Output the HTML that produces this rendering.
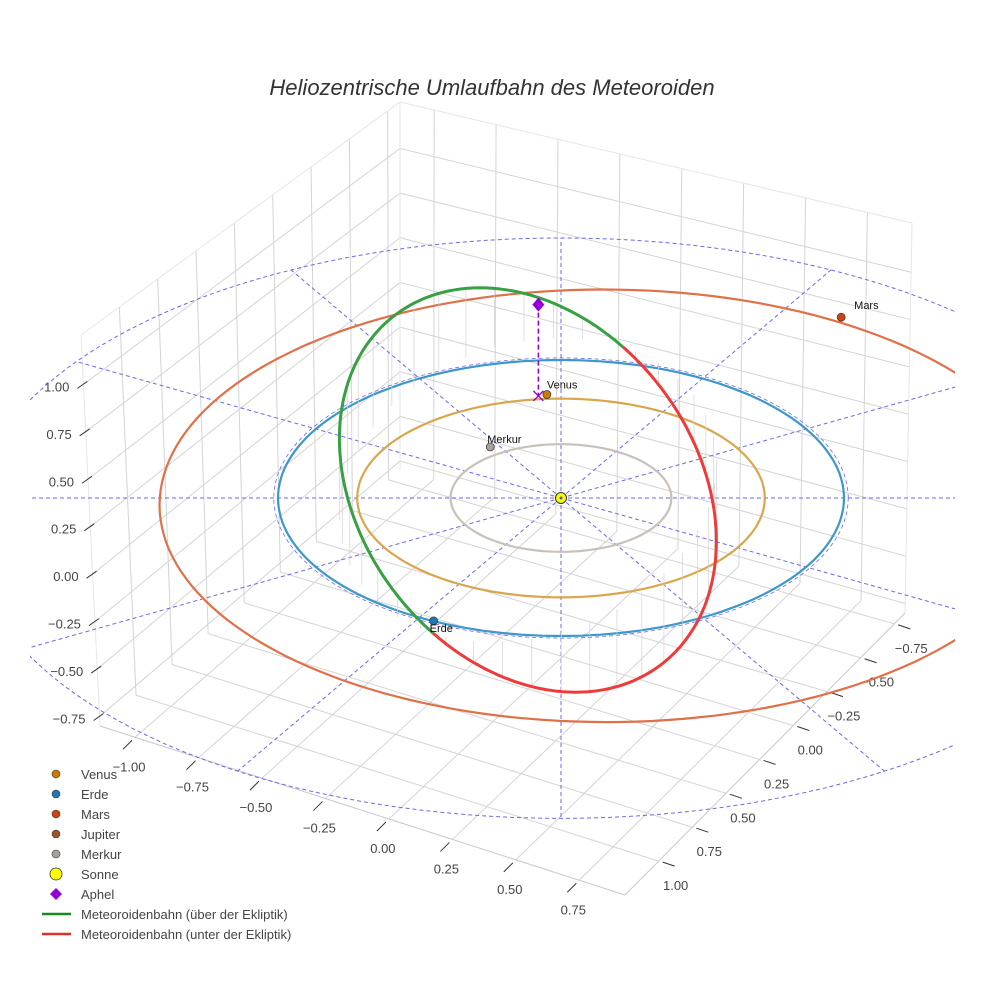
<!DOCTYPE html>
<html><head><meta charset="utf-8">
<style>
html,body{margin:0;padding:0;background:#fff;}
svg{display:block;font-family:"Liberation Sans",sans-serif;}
</style></head>
<body>
<svg id="chart" width="984" height="984" viewBox="0 0 984 984" xmlns="http://www.w3.org/2000/svg">
<defs><clipPath id="clip"><rect x="30" y="100" width="925" height="880"/></clipPath></defs>
<text x="492" y="95" text-anchor="middle" font-size="22" font-style="italic" fill="#333">Heliozentrische Umlaufbahn des Meteoroiden</text>
<g id="box"></g>
<g id="data" clip-path="url(#clip)"></g>
<g id="labels"></g>
<g id="legend"></g>
</svg>
<script>
// ---- data ----
const xTicks = [-1.00,-0.75,-0.50,-0.25,0.00,0.25,0.50,0.75];
const yTicks = [-0.75,-0.50,-0.25,0.00,0.25,0.50,0.75,1.00];
const zTicks = [-0.75,-0.50,-0.25,0.00,0.25,0.50,0.75,1.00];
const xRange = [-1.138, 0.93];
const yRange = [-0.83, 1.25];
const zRange = [-0.8, 1.26];
const planetNames = ["Merkur","Venus","Erde","Mars"];
const planetX = [-0.25,-0.05,-0.45,0.99];
const planetY = [0.37,0.75,-0.89,1.31];
const orbitRadius = [0.39,0.72,1.0,1.575];
const orbitEcc = [0,0,0,0.105];
const orbitPeriAngle = [0,0,0,160];
const meteorCenter = [-0.117,0.058,0];
const meteorU = [-0.336,-1.036,0];
const meteorW = [-0.575,0.375,0.48];
const aphel = [-0.08,0.74,0.48];
const gridRadius = 2.08;
const spokeAngles = [0,30,60,90,120,150,180,210,240,270,300,330];

const NS="http://www.w3.org/2000/svg";
function mk(tag,attrs,parent){const e=document.createElementNS(NS,tag);for(const k in attrs)e.setAttribute(k,attrs[k]);parent.appendChild(e);return e;}
function proj(x,y,z){return [561+283*x, 498-138*y-190*z];}
function gproj(x,y){const f=1/(1+0.05*y);return [561+283*x*f, 498-138*y*f];}
const C={L:[100,726],F:[625,895],R:[905,613],B:[400,470],Lt:[81,335],Ft:[630,505],Rt:[912,223],Bt:[400,102]};
function boxP(x,y,z){
  const u=(x-xRange[0])/(xRange[1]-xRange[0]);
  const v=(yRange[1]-y)/(yRange[1]-yRange[0]);
  const w=(z-zRange[0])/(zRange[1]-zRange[0]);
  function bl(a,b,c,d){return [0,1].map(i=>(1-u)*(1-v)*a[i]+u*(1-v)*b[i]+u*v*c[i]+(1-u)*v*d[i]);}
  const lo=bl(C.L,C.F,C.R,C.B), hi=bl(C.Lt,C.Ft,C.Rt,C.Bt);
  return [lo[0]+(hi[0]-lo[0])*w, lo[1]+(hi[1]-lo[1])*w];
}
const box=document.getElementById('box');
function bline(a,b,col,name){const l=mk('line',{x1:a[0],y1:a[1],x2:b[0],y2:b[1],stroke:col,'stroke-width':1},box);

}
const gc="#d4d4d4";
yTicks.forEach(t=>bline(boxP(xRange[0],t,zRange[0]),boxP(xRange[0],t,zRange[1]),gc,'gridline-y'));
zTicks.forEach(t=>bline(boxP(xRange[0],yRange[1],t),boxP(xRange[0],yRange[0],t),gc,'gridline-z'));
xTicks.forEach(t=>bline(boxP(t,yRange[0],zRange[0]),boxP(t,yRange[0],zRange[1]),gc,'gridline-x'));
zTicks.forEach(t=>bline(boxP(xRange[0],yRange[0],t),boxP(xRange[1],yRange[0],t),gc,'gridline-z'));
xTicks.forEach(t=>bline(boxP(t,yRange[1],zRange[0]),boxP(t,yRange[0],zRange[0]),gc,'gridline-x'));
yTicks.forEach(t=>bline(boxP(xRange[0],t,zRange[0]),boxP(xRange[1],t,zRange[0]),gc,'gridline-y'));
const ec="#e6e6e6";
bline(C.L,C.Lt,ec,'box-edge');bline(C.B,C.Bt,ec,'box-edge');bline(C.R,C.Rt,ec,'box-edge');
bline(C.Lt,C.Bt,ec,'box-edge');bline(C.Bt,C.Rt,ec,'box-edge');
bline(C.L,C.F,"#c8c8c8",'x-axis-line');bline(C.F,C.R,"#c8c8c8",'y-axis-line');
function tlabel(p,txt,anchor,name){const t=mk('text',{x:p[0],y:p[1],'font-size':13,fill:'#444','text-anchor':anchor},box);t.textContent=txt;

}
function fmt(v){return (v<0?'\u2212':'')+Math.abs(v).toFixed(2);}
xTicks.forEach(t=>{const p=boxP(t,yRange[1],zRange[0]);
  bline([p[0]-3,p[1]+3],[p[0]-12,p[1]+12],'#333','x-tick');
  tlabel([p[0]-6,p[1]+34],fmt(t),'middle','x-tick-label');});
yTicks.forEach(t=>{const p=boxP(xRange[1],t,zRange[0]);
  bline([p[0]+4,p[1]+1],[p[0]+16,p[1]+5],'#333','y-tick');
  tlabel([p[0]+17,p[1]+29],fmt(t),'middle','y-tick-label');});
zTicks.forEach(t=>{const p=boxP(xRange[0],yRange[1],t);
  bline([p[0]-6,p[1]+4],[p[0]+4,p[1]-3],'#333','z-tick');
  tlabel([p[0]-14,p[1]+7],fmt(t),'end','z-tick-label');});

const g=document.getElementById('data');
function path(pts){return pts.map((p,i)=>(i?'L':'M')+p[0].toFixed(1)+' '+p[1].toFixed(1)).join(' ');}
const gridPts=[];for(let i=0;i<=360;i+=2){const a=i*Math.PI/180;gridPts.push(gproj(gridRadius*Math.cos(a),gridRadius*Math.sin(a)));}
let e=mk('path',{d:path(gridPts),fill:'none',stroke:'#6a6ae8','stroke-width':1,'stroke-dasharray':'4,3'},g);


const oneAU=[];for(let i=0;i<=360;i+=2){const a=i*Math.PI/180;oneAU.push(proj(1.015*Math.cos(a),1.015*Math.sin(a),0));}
e=mk('path',{d:path(oneAU),fill:'none',stroke:'#6a6ae8','stroke-width':0.8,'stroke-dasharray':'4,3'},g);


spokeAngles.forEach(d=>{const a=d*Math.PI/180;const p0=proj(0,0,0);
  const k=(d===0||d===180)?1.7:1;
  const p2=gproj(gridRadius*Math.cos(a)*k,gridRadius*Math.sin(a));
  const s=mk('line',{x1:p0[0],y1:p0[1],x2:p2[0],y2:p2[1],stroke:'#6a6ae8','stroke-width':1,'stroke-dasharray':'4,3'},g);
  
  });
const orbitColors=['#c9c1b9','#d9a64e','#3d97cc','#e07048'];
planetNames.forEach((n,k)=>{const a=orbitRadius[k],ec2=orbitEcc[k],w=orbitPeriAngle[k]*Math.PI/180;const b=a*Math.sqrt(1-ec2*ec2);
  const cx=-a*ec2*Math.cos(w),cy=-a*ec2*Math.sin(w);const pts=[];
  for(let i=0;i<=360;i+=2){const t=i*Math.PI/180;const X=a*Math.cos(t),Y=b*Math.sin(t);
    pts.push(proj(cx+X*Math.cos(w)-Y*Math.sin(w),cy+X*Math.sin(w)+Y*Math.cos(w),0));}
  const o=mk('path',{d:path(pts),fill:'none',stroke:orbitColors[k],'stroke-width':2.2},g);
  
  });
function mpt(t){const c=Math.cos(t),s=Math.sin(t);return [0,1,2].map(i=>meteorCenter[i]+meteorU[i]*c+meteorW[i]*s);}
for(let i=0;i<40;i++){const t=(i+0.5)*2*Math.PI/40;const p=mpt(t);const a=proj(p[0],p[1],p[2]),b=proj(p[0],p[1],0);
  const l=mk('line',{x1:a[0],y1:a[1],x2:b[0],y2:b[1],stroke:'#d2d2d2','stroke-width':0.7},g);
  
  }
const up=[],down=[];for(let i=0;i<=360;i++){const t=i*Math.PI/180;const p=mpt(t);const q=proj(p[0],p[1],p[2]);if(i<=180)up.push(q);if(i>=180)down.push(q);}
e=mk('path',{d:path(up),fill:'none',stroke:'#36a043','stroke-width':3},g);


e=mk('path',{d:path(down),fill:'none',stroke:'#ef3a3a','stroke-width':3},g);


const ap=proj(aphel[0],aphel[1],aphel[2]),ap0=proj(aphel[0],aphel[1],0);
e=mk('line',{x1:ap[0],y1:ap[1],x2:ap0[0],y2:ap0[1],stroke:'#9400d3','stroke-width':1.5,'stroke-dasharray':'5,3'},g);


e=mk('path',{d:`M${ap0[0]-5} ${ap0[1]-5}L${ap0[0]+5} ${ap0[1]+5}M${ap0[0]+5} ${ap0[1]-5}L${ap0[0]-5} ${ap0[1]+5}`,stroke:'#9400d3','stroke-width':1.3},g);


e=mk('path',{d:`M${ap[0]} ${ap[1]-7}L${ap[0]+6} ${ap[1]}L${ap[0]} ${ap[1]+7}L${ap[0]-6} ${ap[1]}Z`,fill:'#9400d3'},g);


const planetColors=['#a8a09a','#cc7a00','#1f77b4','#cc4411'];
const lab=document.getElementById('labels');
const labelOff=[[-3,-4],[0,-6],[-4,11],[13,-8]];
planetNames.forEach((n,k)=>{const p=proj(planetX[k],planetY[k],0);
  const c=mk('circle',{cx:p[0],cy:p[1],r:4,fill:planetColors[k],stroke:'#333','stroke-width':0.7},g);
  
  
  const t=mk('text',{x:p[0]+labelOff[k][0],y:p[1]+labelOff[k][1],'font-size':11,fill:'#111'},lab);t.textContent=n;
  
  });
const sp=proj(0,0,0);
e=mk('circle',{cx:sp[0],cy:sp[1],r:5.5,fill:'#ffff00',stroke:'#333','stroke-width':1},g);


e=mk('circle',{cx:sp[0],cy:sp[1],r:1.5,fill:'#4060d0'},g);



const legendNames=["Venus","Erde","Mars","Jupiter","Merkur","Sonne","Aphel","Meteoroidenbahn (über der Ekliptik)","Meteoroidenbahn (unter der Ekliptik)"];
const legendColors=['#cc7a00','#1f77b4','#cc4411','#a0522d','#a8a09a','#ffff00','#9400d3','#1a8a1a','#e03030'];
const leg=document.getElementById('legend');
legendNames.forEach((n,i)=>{const y=774+i*20;const gi=mk('g',{},leg);
  
  
  if(i<5) mk('circle',{cx:56,cy:y,r:4,fill:legendColors[i],stroke:'#333','stroke-width':0.6},gi);
  else if(i===5) mk('circle',{cx:56,cy:y,r:6,fill:legendColors[i],stroke:'#333','stroke-width':0.8},gi);
  else if(i===6) mk('path',{d:`M56 ${y-6}L62 ${y}L56 ${y+6}L50 ${y}Z`,fill:legendColors[i]},gi);
  else mk('line',{x1:42,y1:y,x2:71,y2:y,stroke:legendColors[i],'stroke-width':2.5},gi);
  const t=mk('text',{x:81,y:y+5,'font-size':13,fill:'#444'},gi);t.textContent=n;});
</script>
</body></html>
